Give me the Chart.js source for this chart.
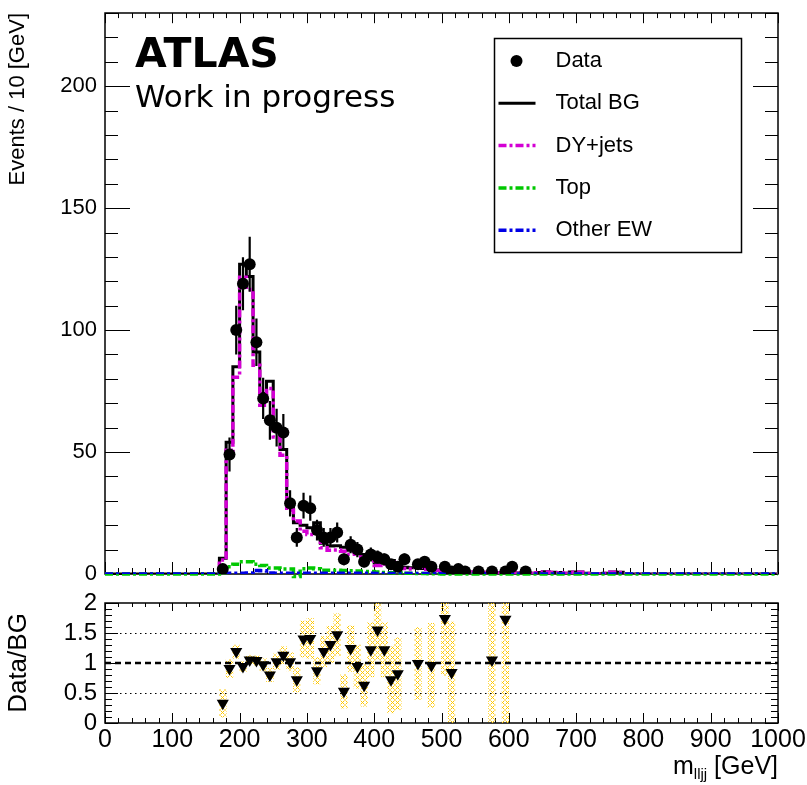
<!DOCTYPE html>
<html>
<head>
<meta charset="utf-8">
<script src="https://cdn.jsdelivr.net/npm/chart.js@4.4.1/dist/chart.umd.min.js"></script>
<style>
  html, body { margin: 0; padding: 0; background: #fff; }
  #wrap { position: relative; width: 807px; height: 785px; overflow: hidden; }
  #wrap canvas { position: absolute; left: 0; }
  #mainCanvas { top: 0; }
  #ratioCanvas { top: 590px; }
  .tag { position: absolute; left: 135px; color: #000; white-space: nowrap; }
  #atlas { top: 29px; font: bold 41px "Comic Sans MS", "DejaVu Sans", sans-serif; }
  #wip { top: 78px; font: 31px "Comic Sans MS", "DejaVu Sans", sans-serif; }
</style>
</head>
<body>
<div id="wrap">
  <canvas id="mainCanvas" width="807" height="590"></canvas>
  <canvas id="ratioCanvas" width="807" height="195"></canvas>
  <div class="tag" id="atlas">ATLAS</div>
  <div class="tag" id="wip">Work in progress</div>
</div>
<script>
'use strict';

// 10 GeV bins, arrays start at the 170-180 GeV bin
const binWidth = 10;
const firstEdge = 170;
const xMin = 0;
const xMax = 1000;

// observed events per bin
const dataCounts = [2, 49, 100, 119, 127, 95, 72, 63, 60, 58,
    29, 15, 28, 27, 18, 15, 15, 17, 6, 12,
    10, 5, 8, 7, 6, 4, 3, 6, 0, 4,
    5, 3, 0, 3, 1, 2, 1, 0, 1, 0,
    1, 0, 1, 3, 0, 1, 0];

// background expectations per bin
const totalBG = [6.5, 54, 85, 127, 122, 91, 74, 79, 59, 51,
    28.5, 21, 20, 19, 21, 12.6, 11.5, 11.6, 11, 9.7,
    10, 8, 6.6, 4.5, 4.9, 5.5, 3.7, 2.8, 2.6, 4,
    2.3, 3.1, 1.6, 1.75, 1.2, 0.9, 1, 0.8, 0.5, 0.7,
    0.95, 0.5, 0.6, 0.5, 0.4, 0.4, 0.3, 0.6, 0.9, 0.7,
    0.6, 0.3, 0.8, 0.8, 0.3, 0.2, 0.2, 0.3, 0.8, 0.7,
    0.2];
const dyJets = [5.7, 50.7, 80.7, 121.7, 116.6, 85.6, 69.2, 76.1, 56.2, 48.7,
    26.2, 21.7, 17.5, 16.2, 18.5, 10.8, 9.7, 9.8, 9.3, 8.1,
    8.5, 6.7, 5.3, 3.5, 4.1, 4.8, 3.1, 2.3, 2.1, 3.6,
    1.9, 2.8, 1.4, 1.6, 1.05, 0.8, 0.9, 0.7, 0.4, 0.6,
    0.85, 0.4, 0.5, 0.4, 0.3, 0.3, 0.2, 0.5, 0.8, 0.6,
    0.5, 0.2, 0.7, 0.7, 0.2, 0.1, 0.1, 0.2, 0.7, 0.6,
    0.1];
const topBG = [0.6, 3, 4, 5, 5, 4, 3.5, 2.5, 2.5, 2,
    2, -1, 2.2, 2.5, 2.2, 1.5, 1.5, 1.5, 1.4, 1.3,
    1.2, 1, 1, 0.8, 0.6, 0.5, 0.4, 0.3, 0.3, 0.2,
    0.2, 0.1, 0.1];
const otherEW = [0.2, 0.3, 0.3, 0.3, 0.4, 1.4, 1.3, 0.4, 0.3, 0.3,
    0.3, 0.3, 0.3, 0.3, 0.3, 0.3, 0.3, 0.3, 0.3, 0.3,
    0.3, 0.3, 0.3, 0.2, 0.2, 0.2, 0.2, 0.2, 0.2, 0.2,
    0.2, 0.2, 0.15, 0.15, 0.15, 0.1, 0.1, 0.1, 0.1, 0.1];

// Data/BG per bin (null = off scale or empty) and its uncertainty
const ratioVals = [0.33, 0.91, 1.19, 0.94, 1.05, 1.04, 0.97, 0.8, 1.02, 1.13,
    1.02, 0.72, 1.4, 1.41, 0.87, 1.19, 1.31, 1.47, 0.53, 1.24,
    0.94, 0.63, 1.22, 1.55, 1.22, 0.72, 0.82, null, null, 0.99,
    null, 0.96, null, 1.74, 0.84, null, null, null, null, null,
    1.05, null, 1.73, null, null, null, null];
const ratioErr = [0.23, 0.15, 0.11, 0.08, 0.08, 0.08, 0.1, 0.11, 0.13, 0.14,
    0.15, 0.2, 0.3, 0.33, 0.22, 0.25, 0.3, 0.35, 0.28, 0.38,
    0.36, 0.35, 0.45, 0.5, 0.45, 0.55, 0.6, null, null, 0.6,
    null, 0.7, null, 0.95, 0.84, null, null, null, null, null,
    1.1, null, 1.75, null, null, null, null];

const mainYTicks = [0, 50, 100, 150, 200];
const ratioYTicks = [0, 0.5, 1, 1.5, 2];
const massTicks = [0, 100, 200, 300, 400, 500, 600, 700, 800, 900, 1000];

const FONT = '"Liberation Sans", Arial, Helvetica, sans-serif';
Chart.defaults.font.family = FONT;
Chart.defaults.color = '#000';

function binCenter(i) {
    return firstEdge + binWidth * (i + 0.5);
}

// histogram outline: one point per left bin edge, empty bins are 0
function stepPoints(values) {
    const pts = [];
    for (let e = xMin; e < xMax; e += binWidth) {
        const i = Math.round((e - firstEdge) / binWidth);
        const v = (i >= 0 && i < values.length) ? values[i] : 0;
        pts.push({x: e, y: v});
    }
    pts.push({x: xMax, y: pts[pts.length - 1].y});
    return pts;
}

// small yellow crosses for the ratio uncertainty boxes
function hatch(color) {
    const c = document.createElement('canvas');
    c.width = 5;
    c.height = 5;
    const g = c.getContext('2d');
    g.strokeStyle = color;
    g.lineWidth = 1;
    g.beginPath();
    g.moveTo(0.5, 0.5); g.lineTo(4.5, 4.5);
    g.moveTo(4.5, 0.5); g.lineTo(0.5, 4.5);
    g.stroke();
    return g.createPattern(c, 'repeat');
}

function isMultiple(v, step) {
    const q = v / step;
    return Math.abs(q - Math.round(q)) < 1e-6;
}

// frame with inward ticks on all four sides
const rootFrame = {
    id: 'rootFrame',
    beforeDatasetsDraw(chart, args, opts) {
        const {ctx, chartArea: a, scales: {x, y}} = chart;
        ctx.save();
        ctx.strokeStyle = '#000';
        ctx.lineWidth = 1;
        ctx.beginPath();
        const nx = Math.round((x.max - x.min) / opts.xMinor);
        for (let i = 0; i <= nx; i++) {
            const v = x.min + i * opts.xMinor;
            const px = Math.round(x.getPixelForValue(v)) + 0.5;
            const len = isMultiple(v, opts.xMajor) ? opts.xLen[0] : opts.xLen[1];
            ctx.moveTo(px, a.bottom); ctx.lineTo(px, a.bottom - len);
            ctx.moveTo(px, a.top); ctx.lineTo(px, a.top + len * opts.topScale);
        }
        const ny = Math.round((y.max - y.min) / opts.yMinor);
        for (let i = 0; i <= ny; i++) {
            const v = y.min + i * opts.yMinor;
            const py = Math.round(y.getPixelForValue(v)) + 0.5;
            const len = isMultiple(v, opts.yMajor) ? opts.yLen[0] : opts.yLen[1];
            ctx.moveTo(a.left, py); ctx.lineTo(a.left + len, py);
            ctx.moveTo(a.right, py); ctx.lineTo(a.right - len, py);
        }
        ctx.stroke();
        ctx.lineWidth = 1.5;
        ctx.strokeRect(a.left, a.top, a.right - a.left, a.bottom - a.top);
        ctx.restore();
    }
};

// sqrt(N) error bars under the data markers
const dataErrors = {
    id: 'dataErrors',
    beforeDatasetDraw(chart, args) {
        if (chart.data.datasets[args.index].label !== 'Data') return;
        const {ctx, scales: {x, y}} = chart;
        ctx.save();
        ctx.strokeStyle = '#000';
        ctx.lineWidth = 2.2;
        ctx.beginPath();
        chart.data.datasets[args.index].data.forEach(p => {
            const e = Math.sqrt(p.y);
            const px = x.getPixelForValue(p.x);
            ctx.moveTo(px, y.getPixelForValue(Math.max(p.y - e, 0)));
            ctx.lineTo(px, y.getPixelForValue(p.y + e));
        });
        ctx.stroke();
        ctx.restore();
    }
};

// boxed legend in the upper right of the main pad
const boxLegend = {
    id: 'boxLegend',
    afterDraw(chart, args, opts) {
        const {ctx} = chart;
        const [bx, by, bw, bh] = opts.box;
        ctx.save();
        ctx.fillStyle = '#fff';
        ctx.fillRect(bx, by, bw, bh);
        ctx.strokeStyle = '#000';
        ctx.lineWidth = 1.5;
        ctx.strokeRect(bx, by, bw, bh);
        ctx.font = '22px ' + FONT;
        ctx.textBaseline = 'middle';
        chart.data.datasets.forEach((ds, i) => {
            const cy = by + opts.firstRow + i * opts.rowStep;
            if (ds.showLine === false) {
                ctx.fillStyle = ds.pointBackgroundColor;
                ctx.beginPath();
                ctx.arc(bx + 22, cy, ds.pointRadius, 0, Math.PI * 2);
                ctx.fill();
            } else {
                ctx.strokeStyle = ds.borderColor;
                ctx.lineWidth = ds.borderWidth;
                ctx.setLineDash(ds.borderDash || []);
                ctx.beginPath();
                ctx.moveTo(bx + 4, cy);
                ctx.lineTo(bx + 41, cy);
                ctx.stroke();
                ctx.setLineDash([]);
            }
            ctx.fillStyle = '#000';
            ctx.fillText(ds.label, bx + 61, cy);
        });
        ctx.restore();
    }
};

// reference lines at 0.5, 1 and 1.5 drawn over the bands, under the markers
const ratioLines = {
    id: 'ratioLines',
    afterDatasetDraw(chart, args) {
        if (chart.data.datasets[args.index].type !== 'bar') return;
        const {ctx, chartArea: a, scales: {y}} = chart;
        ctx.save();
        ctx.strokeStyle = '#000';
        [0.5, 1.5].forEach(v => {
            const py = Math.round(y.getPixelForValue(v)) + 0.5;
            ctx.lineWidth = 1;
            ctx.setLineDash([1.5, 3.5]);
            ctx.beginPath();
            ctx.moveTo(a.left, py); ctx.lineTo(a.right, py);
            ctx.stroke();
        });
        const p1 = y.getPixelForValue(1);
        ctx.lineWidth = 2.5;
        ctx.setLineDash([6, 4]);
        ctx.beginPath();
        ctx.moveTo(a.left, p1); ctx.lineTo(a.right, p1);
        ctx.stroke();
        ctx.restore();
    }
};

// m_lljj [GeV] with subscript, right aligned under the ratio pad
const massTitle = {
    id: 'massTitle',
    afterDraw(chart) {
        const {ctx, scales: {x}} = chart;
        const base = 184;
        ctx.save();
        ctx.fillStyle = '#000';
        ctx.textBaseline = 'alphabetic';
        const bigFont = '25px ' + FONT;
        const subFont = '15px ' + FONT;
        ctx.font = bigFont;
        const wM = ctx.measureText('m').width;
        const wUnit = ctx.measureText(' [GeV]').width;
        ctx.font = subFont;
        const wSub = ctx.measureText('lljj').width;
        let left = x.right - (wM + wSub + wUnit);
        ctx.font = bigFont;
        ctx.fillText('m', left, base);
        ctx.font = subFont;
        ctx.fillText('lljj', left + wM, base + 5);
        ctx.font = bigFont;
        ctx.fillText(' [GeV]', left + wM + wSub, base);
        ctx.restore();
    }
};

function noPadding(scale) {
    scale.paddingTop = 0;
    scale.paddingBottom = 0;
    scale.paddingLeft = 0;
    scale.paddingRight = 0;
}

const dataPoints = [];
dataCounts.forEach((n, i) => {
    if (n > 0) dataPoints.push({x: binCenter(i), y: n});
});

function histogram(label, values, color, width, dash, order) {
    return {
        label: label,
        data: stepPoints(values),
        borderColor: color,
        backgroundColor: color,
        borderWidth: width,
        borderDash: dash,
        stepped: 'before',
        pointRadius: 0,
        fill: false,
        order: order
    };
}

const dashDot = [8, 3, 3, 3];
const topSet = histogram('Top', topBG, '#00c800', 3.5, dashDot, 2);
topSet.clip = false;

new Chart(document.getElementById('mainCanvas'), {
    type: 'line',
    data: {
        datasets: [
            {
                label: 'Data',
                data: dataPoints,
                showLine: false,
                pointStyle: 'circle',
                pointRadius: 6,
                pointBackgroundColor: '#000',
                pointBorderColor: '#000',
                pointBorderWidth: 0,
                order: 0
            },
            histogram('Total BG', totalBG, '#000', 3, [], 4),
            histogram('DY+jets', dyJets, '#d400d4', 3.5, dashDot, 3),
            topSet,
            histogram('Other EW', otherEW, '#0000e6', 3.5, dashDot, 1)
        ]
    },
    options: {
        responsive: false,
        devicePixelRatio: 1,
        animation: false,
        events: [],
        layout: { padding: { top: 13, right: 29, bottom: 16, left: 0 } },
        scales: {
            x: { type: 'linear', min: xMin, max: xMax, display: false },
            y: {
                min: 0,
                max: 230,
                afterFit(scale) { scale.width = 105; noPadding(scale); },
                afterBuildTicks(scale) { scale.ticks = mainYTicks.map(v => ({value: v})); },
                grid: { display: false, drawTicks: false },
                border: { display: false },
                ticks: { padding: 8, color: '#000', autoSkip: false, font: { size: 22 } },
                title: {
                    display: true,
                    text: 'Events / 10 [GeV]',
                    align: 'end',
                    color: '#000',
                    font: { size: 22 },
                    padding: { top: 5, bottom: 0 }
                }
            }
        },
        plugins: {
            legend: { display: false },
            tooltip: { enabled: false },
            rootFrame: { xMajor: 100, xMinor: 20, xLen: [12, 6], topScale: 0.85, yMajor: 50, yMinor: 10, yLen: [25, 13] },
            boxLegend: { box: [494.5, 38.5, 247, 214], firstRow: 22.5, rowStep: 42.3 }
        }
    },
    plugins: [rootFrame, dataErrors, boxLegend]
});

const ratioPoints = [];
const ratioBands = [];
ratioVals.forEach((r, i) => {
    if (r === null) return;
    ratioPoints.push({x: binCenter(i), y: r});
    ratioBands.push({x: binCenter(i), y: [r - ratioErr[i], r + ratioErr[i]]});
});

new Chart(document.getElementById('ratioCanvas'), {
    type: 'line',
    data: {
        datasets: [
            {
                type: 'line',
                label: 'Data/BG',
                data: ratioPoints,
                showLine: false,
                pointStyle: 'triangle',
                rotation: 180,
                pointRadius: 7,
                pointBackgroundColor: '#000',
                pointBorderColor: '#000',
                pointBorderWidth: 0,
                order: 0
            },
            {
                type: 'bar',
                label: 'Uncertainty',
                data: ratioBands,
                backgroundColor: hatch('#ffc800'),
                borderWidth: 0,
                barPercentage: 1,
                categoryPercentage: 1,
                order: 1
            }
        ]
    },
    options: {
        responsive: false,
        devicePixelRatio: 1,
        animation: false,
        events: [],
        layout: { padding: { top: 13, right: 29, bottom: 0, left: 0 } },
        scales: {
            x: {
                type: 'linear',
                min: xMin,
                max: xMax,
                offset: false,
                afterFit(scale) { scale.height = 62; noPadding(scale); },
                afterBuildTicks(scale) { scale.ticks = massTicks.map(v => ({value: v})); },
                grid: { display: false, drawTicks: false },
                border: { display: false },
                ticks: {
                    padding: 2,
                    color: '#000',
                    autoSkip: false,
                    maxRotation: 0,
                    font: { size: 25 },
                    callback: v => String(v)
                }
            },
            y: {
                min: 0,
                max: 2,
                afterFit(scale) { scale.width = 105; noPadding(scale); },
                afterBuildTicks(scale) { scale.ticks = ratioYTicks.map(v => ({value: v})); },
                grid: { display: false, drawTicks: false },
                border: { display: false },
                ticks: { padding: 8, color: '#000', autoSkip: false, font: { size: 24 }, callback: v => String(v) },
                title: {
                    display: true,
                    text: 'Data/BG',
                    color: '#000',
                    font: { size: 26 },
                    padding: { top: 3, bottom: 0 }
                }
            }
        },
        plugins: {
            legend: { display: false },
            tooltip: { enabled: false },
            rootFrame: { xMajor: 100, xMinor: 20, xLen: [10, 5], topScale: 0.8, yMajor: 0.5, yMinor: 0.1, yLen: [13, 7] }
        }
    },
    plugins: [rootFrame, ratioLines, massTitle]
});
</script>
</body>
</html>
